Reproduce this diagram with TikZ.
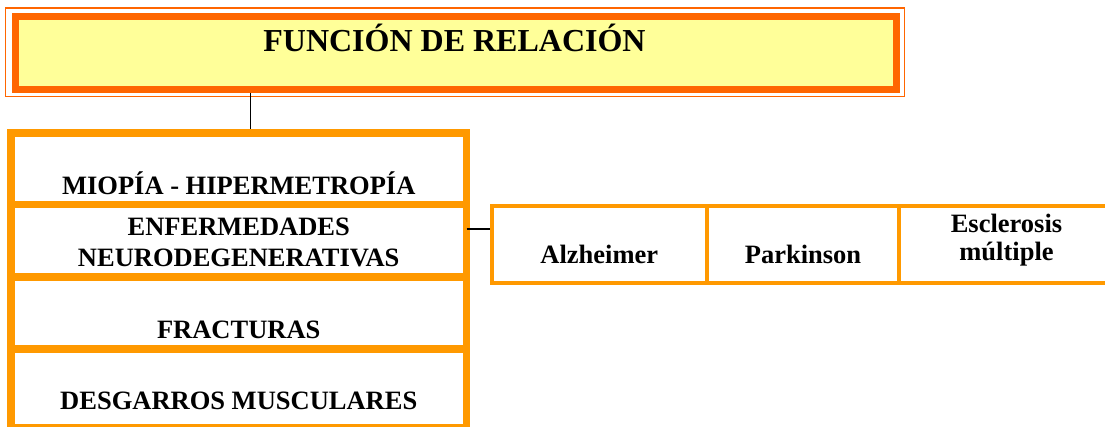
\documentclass[tikz,border=0pt]{standalone}
\usepackage{fontspec}
\setmainfont{Liberation Serif}
\definecolor{naranja}{HTML}{FF9900}
\definecolor{naranjaosc}{HTML}{FF6600}
\definecolor{amarillo}{HTML}{FFFF99}
\begin{document}
\begin{tikzpicture}[x=1pt,y=-1pt,
    titulo/.style={draw=naranjaosc,fill=amarillo,line width=7pt,minimum width=881pt,minimum height=73pt,inner sep=0pt},
    marco/.style={draw=naranjaosc,line width=1.5pt,minimum width=899pt,minimum height=88.5pt,inner sep=0pt},
    fila/.style={draw=naranja,line width=7.5pt,minimum width=455.5pt,inner sep=0pt},
    celda/.style={draw=naranja,line width=4pt,minimum height=77.3pt,inner sep=0pt},
    texto/.style={font=\bfseries\fontsize{26.5}{31}\selectfont,align=center,anchor=base,inner sep=0pt},
    enlace/.style={line width=1.5pt}]
    \useasboundingbox (0,0) rectangle (1105,426);
    % titulo
    \node[marco] (tmarco) at (455.2,52.2) {};
    \node[titulo] (tbox) at (456,52.5) {};
    \node[font=\bfseries\fontsize{32}{36}\selectfont,anchor=base,inner sep=0pt] (ttxt) at (454.5,51) {FUNCIÓN DE RELACIÓN};
    % columna izquierda
    \node[fila,minimum height=71.5pt] (r1) at (238.75,168.75) {};
    \node[fila,minimum height=72.5pt] (r2) at (238.75,240.75) {};
    \node[fila,minimum height=72pt] (r3) at (238.75,313) {};
    \node[fila,minimum height=79pt] (r4) at (238.75,388.5) {};
    \node[texto] (t1) at (238.75,194) {MIOPÍA - HIPERMETROPÍA};
    \node[texto] (t2) at (238.75,266) {ENFERMEDADES\\NEURODEGENERATIVAS};
    \node[texto] (t3) at (238.75,338) {FRACTURAS};
    \node[texto] (t4) at (238.75,409) {DESGARROS MUSCULARES};
    % tabla derecha
    \node[celda,minimum width=215.5pt] (a1) at (599.25,244.65) {};
    \node[celda,minimum width=192pt] (a2) at (803,244.65) {};
    \node[celda,minimum width=215pt] (a3) at (1006.5,244.65) {};
    \node[texto] (s1) at (599.25,263.3) {Alzheimer};
    \node[texto] (s2) at (803,263.3) {Parkinson};
    \node[texto,font=\bfseries\fontsize{26.5}{28.5}\selectfont] (s3) at (1006.5,260.8) {Esclerosis\\múltiple};
    % enlaces
    \coordinate (c1) at (250.5,92.5);
    \coordinate (c2) at (466.5,229);
    \draw[enlace] (c1) -- (c1 |- r1.north);
    \draw[enlace] (c2) -- (c2 -| a1.west);
\end{tikzpicture}
\end{document}
